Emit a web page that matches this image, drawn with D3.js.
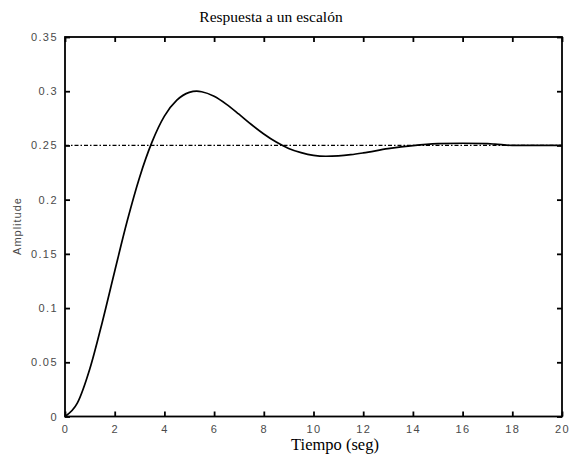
<!DOCTYPE html>
<html>
<head>
<meta charset="utf-8">
<script src="https://cdn.jsdelivr.net/npm/d3@7"></script>
<style>
  html, body { margin: 0; padding: 0; background: #fff; }
  svg { display: block; }
  .tick text { font-family: "Liberation Sans", Arial, sans-serif; font-size: 11px; fill: #4a4a4a; letter-spacing: 1.4px; }
</style>
</head>
<body>
<svg id="chart" width="570" height="462"></svg>
<script>
// ---- data ----
const title = "Respuesta a un escalón";
const xLabel = "Tiempo (seg)";
const yLabel = "Amplitude";
const time = [0, 0.5, 1, 1.5, 2, 2.5, 3, 3.5, 4, 4.5, 5, 5.3, 5.5, 6, 6.5, 7, 7.5, 8, 8.5, 9, 9.5, 10, 10.5, 11, 11.5, 12, 13, 14, 15, 16, 17, 17.3, 18, 19, 20];
const amplitude = [0, 0.0125, 0.044, 0.087, 0.134, 0.180, 0.2205, 0.253, 0.277, 0.2917, 0.2989, 0.3000, 0.2995, 0.2953, 0.2879, 0.2788, 0.2693, 0.2606, 0.2531, 0.2472, 0.2433, 0.2408, 0.2400, 0.2404, 0.2415, 0.2431, 0.2470, 0.2499, 0.2516, 0.2520, 0.2516, 0.2512, 0.2500, 0.2500, 0.2500];
const finalValue = [0.25, 0.25];
const finalTime = [0, 20];
const xTicks = [0, 2, 4, 6, 8, 10, 12, 14, 16, 18, 20];
const yTicks = [0, 0.05, 0.1, 0.15, 0.2, 0.25, 0.3, 0.35];

(function () {
  const svg = d3.select("#chart");
  const pL = 65, pR = 562, pT = 37, pB = 416.5;
  const x = d3.scaleLinear().domain([0, 20]).range([pL, pR]);
  const y = d3.scaleLinear().domain([0, 0.35]).range([pB, pT]);
  const fmt = d => String(+d.toFixed(2));

  const gB = svg.append("g").attr("transform", `translate(0,${pB})`)
    .call(d3.axisBottom(x).tickValues(xTicks).tickFormat(fmt).tickSizeInner(-5).tickSizeOuter(0).tickPadding(6));
  const gT = svg.append("g").attr("transform", `translate(0,${pT})`)
    .call(d3.axisTop(x).tickValues(xTicks).tickFormat("").tickSizeInner(-5).tickSizeOuter(0));
  const gL = svg.append("g").attr("transform", `translate(${pL},0)`)
    .call(d3.axisLeft(y).tickValues(yTicks).tickFormat(fmt).tickSizeInner(-5).tickSizeOuter(0).tickPadding(6));
  const gR = svg.append("g").attr("transform", `translate(${pR},0)`)
    .call(d3.axisRight(y).tickValues(yTicks).tickFormat("").tickSizeInner(-5).tickSizeOuter(0));
  [gB, gT, gL, gR].forEach(g => {
    g.select(".domain").remove();
    g.selectAll(".tick line").attr("stroke", "#000").attr("stroke-width", 1.8);
  });
  gB.selectAll(".tick text").attr("dy", "0.95em");
  gL.selectAll(".tick text").attr("dx", "-0.1em");

  svg.append("rect").attr("x", pL).attr("y", pT)
    .attr("width", pR - pL).attr("height", pB - pT)
    .attr("fill", "none").attr("stroke", "#000").attr("stroke-width", 1.8);

  svg.append("path")
    .datum(finalTime.map((t, i) => [t, finalValue[i]]))
    .attr("d", d3.line().x(d => x(d[0])).y(d => y(d[1])))
    .attr("fill", "none").attr("stroke", "#000").attr("stroke-width", 1.2)
    .attr("stroke-dasharray", "4,2,1.5,2");

  svg.append("path")
    .datum(time.map((t, i) => [t, amplitude[i]]))
    .attr("d", d3.line().x(d => x(d[0])).y(d => y(d[1])).curve(d3.curveMonotoneX))
    .attr("fill", "none").attr("stroke", "#000").attr("stroke-width", 1.7);

  svg.append("text").attr("x", 271).attr("y", 22).attr("text-anchor", "middle")
    .attr("font-family", "'Liberation Serif', 'Times New Roman', serif").attr("font-size", 15.5)
    .attr("fill", "#000").text(title);
  svg.append("text").attr("x", 335).attr("y", 450).attr("text-anchor", "middle")
    .attr("font-family", "'Liberation Serif', 'Times New Roman', serif").attr("font-size", 16.5)
    .attr("fill", "#000").text(xLabel);
  svg.append("text").attr("transform", "translate(21,226) rotate(-90)").attr("text-anchor", "middle")
    .attr("font-family", "'Liberation Sans', Arial, sans-serif").attr("font-size", 11)
    .attr("fill", "#4a4a4a").attr("letter-spacing", "1px").text(yLabel);
})();
</script>
</body>
</html>
